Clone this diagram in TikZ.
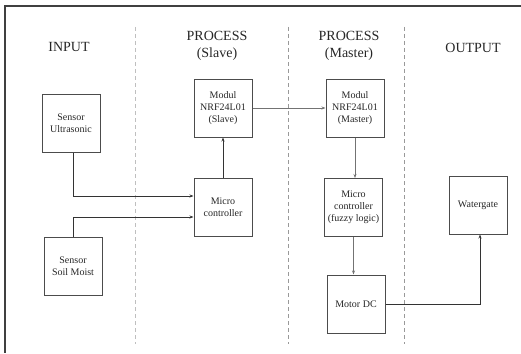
\documentclass[tikz,border=0pt]{standalone}
\usepackage{fontspec}
\setmainfont{Liberation Serif}
\usetikzlibrary{arrows.meta}
\begin{document}
\begin{tikzpicture}[x=1pt,y=-1pt,
  blk/.style={draw=black!70,line width=1pt,minimum width=58pt,minimum height=58pt,inner sep=1pt,align=center,font=\fontsize{10}{12}\selectfont,text=black!85},
  hdr/.style={align=center,font=\fontsize{14}{17}\selectfont,text=black!85},
  divider/.style={draw=black!40,line width=0.8pt,dash pattern=on 4pt off 3pt},
  conn/.style={draw=black!80,line width=0.8pt,-{Stealth[length=4pt,width=3pt]}},
  lconn/.style={draw=black!55,line width=0.8pt,-{Stealth[length=4pt,width=3pt]}}]
\useasboundingbox (0,0) rectangle (521,353);
\draw[black!75,line width=1.6pt] (521,6) -- (5,6) -- (5,353);
% dividers
\draw[divider,draw=black!25] (135,27) -- (135,344);
\draw[divider] (288,27) -- (288,344);
\draw[divider] (404,27) -- (404,344);
% headers
\node[hdr] (hin) at (69,47) {INPUT};
\node[hdr] (hps) at (217,46) {PROCESS\\(Slave)};
\node[hdr] (hpm) at (349,46) {PROCESS\\(Master)};
\node[hdr] (hout) at (473,48) {OUTPUT};
% blocks
\node[blk] (us) at (71,123) {Sensor\\Ultrasonic};
\node[blk] (sm) at (73,266) {Sensor\\Soil Moist};
\node[blk] (nrfs) at (223,108) {Modul\\NRF24L01\\(Slave)};
\node[blk] (mcs) at (223,207.5) {Micro\\controller};
\node[blk] (nrfm) at (355,108) {Modul\\NRF24L01\\(Master)};
\node[blk] (mcm) at (353.5,207.5) {Micro\\controller\\(fuzzy logic)};
\node[blk] (mot) at (356,304) {Motor DC};
\node[blk] (wg) at (478,205) {Watergate};
% connectors
\coordinate (a1) at (73,196);
\coordinate (a2) at (73,217);
\draw[conn] (us.south -| a1) -- (a1) -- (a1 -| mcs.west);
\draw[conn] (sm.north -| a2) -- (a2) -- (a2 -| mcs.west);
\draw[conn] (mcs.north) -- (nrfs.south);
\draw[lconn] (nrfs.east) -- (nrfm.west);
\draw[lconn] (nrfm.south) -- (nrfm.south |- mcm.north);
\draw[lconn] (mcm.south) -- (mcm.south |- mot.north);
\coordinate (c1) at (480,304);
\draw[conn] (mot.east) -- (c1) -- (c1 |- wg.south);
\end{tikzpicture}
\end{document}
